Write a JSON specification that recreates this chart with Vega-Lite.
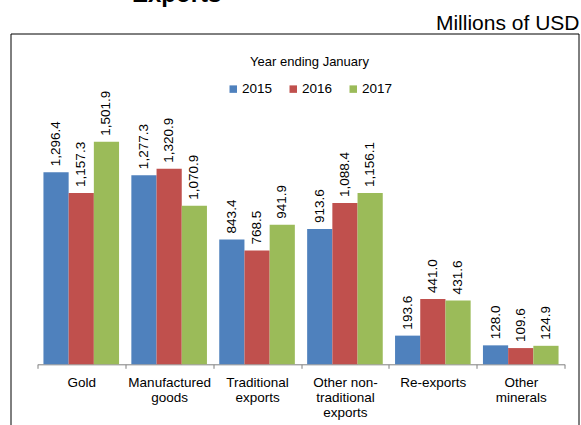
{
  "$schema": "https://vega.github.io/schema/vega-lite/v6.json",
  "width": 568,
  "height": 392,
  "autosize": {"type": "none"},
  "padding": {"left": 10.5, "top": 33.5, "right": 2.5, "bottom": -0.5},
  "background": "#ffffff",
  "config": {
    "font": "Liberation Sans",
    "view": {"stroke": "#000000", "strokeWidth": 1},
    "axis": {"grid": false}
  },
  "title": {
    "text": "Exports",
    "anchor": "start",
    "frame": "group",
    "fontSize": 24,
    "fontWeight": "bold",
    "color": "#000000",
    "dx": 121.5,
    "offset": 5.5
  },
  "data": {
    "values": [
      {"category": "Gold", "year": "2015", "value": 1296.4},
      {"category": "Gold", "year": "2016", "value": 1157.3},
      {"category": "Gold", "year": "2017", "value": 1501.9},
      {"category": "Manufactured goods", "year": "2015", "value": 1277.3},
      {"category": "Manufactured goods", "year": "2016", "value": 1320.9},
      {"category": "Manufactured goods", "year": "2017", "value": 1070.9},
      {"category": "Traditional exports", "year": "2015", "value": 843.4},
      {"category": "Traditional exports", "year": "2016", "value": 768.5},
      {"category": "Traditional exports", "year": "2017", "value": 941.9},
      {"category": "Other non-traditional exports", "year": "2015", "value": 913.6},
      {"category": "Other non-traditional exports", "year": "2016", "value": 1088.4},
      {"category": "Other non-traditional exports", "year": "2017", "value": 1156.1},
      {"category": "Re-exports", "year": "2015", "value": 193.6},
      {"category": "Re-exports", "year": "2016", "value": 441.0},
      {"category": "Re-exports", "year": "2017", "value": 431.6},
      {"category": "Other minerals", "year": "2015", "value": 128.0},
      {"category": "Other minerals", "year": "2016", "value": 109.6},
      {"category": "Other minerals", "year": "2017", "value": 124.9}
    ]
  },
  "encoding": {
    "x": {
      "field": "category",
      "type": "nominal",
      "sort": ["Gold", "Manufactured goods", "Traditional exports", "Other non-traditional exports", "Re-exports", "Other minerals"],
      "scale": {"range": [26.8, 554.2], "paddingInner": 0, "paddingOuter": 0},
      "axis": {
        "title": null,
        "orient": "bottom",
        "offset": -61.2,
        "tickBand": "extent",
        "domainColor": "#808080",
        "tickColor": "#808080",
        "tickSize": 4,
        "labelAngle": 0,
        "labelFontSize": 13.5,
        "labelColor": "#000000",
        "labelPadding": 7,
        "labelLineHeight": 15,
        "labelOverlap": false,
        "labelExpr": "datum.value == 'Manufactured goods' ? ['Manufactured', 'goods'] : datum.value == 'Traditional exports' ? ['Traditional', 'exports'] : datum.value == 'Other non-traditional exports' ? ['Other non-', 'traditional', 'exports'] : datum.value == 'Other minerals' ? ['Other', 'minerals'] : datum.label"
      }
    },
    "xOffset": {
      "field": "year",
      "type": "nominal",
      "scale": {"paddingInner": 0, "paddingOuter": 0.244}
    },
    "y": {
      "field": "value",
      "type": "quantitative",
      "scale": {"domain": [-413.2, 2233.6], "nice": false, "zero": false},
      "axis": {
        "orient": "right",
        "title": "Millions of USD",
        "labels": false,
        "ticks": false,
        "domain": false,
        "grid": false,
        "titleAngle": 0,
        "titleAlign": "right",
        "titleBaseline": "alphabetic",
        "titleX": 0.5,
        "titleY": -4.5,
        "titleFontSize": 21,
        "titleFontWeight": "normal",
        "titleColor": "#000000"
      }
    }
  },
  "layer": [
    {
      "mark": {"type": "bar"},
      "encoding": {
        "y2": {"datum": 0},
        "color": {
          "field": "year",
          "type": "nominal",
          "scale": {"domain": ["2015", "2016", "2017"], "range": ["#4F81BD", "#C0504D", "#9BBB59"]},
          "legend": {
            "title": "Year ending January",
            "orient": "none",
            "legendX": 216,
            "legendY": 22.5,
            "direction": "horizontal",
            "titleAnchor": "middle",
            "titleFontSize": 13,
            "titleFontWeight": "normal",
            "titleColor": "#000000",
            "titlePadding": 13,
            "labelFontSize": 13.5,
            "labelColor": "#000000",
            "labelOffset": 2,
            "symbolType": "square",
            "symbolSize": 56,
            "symbolStrokeWidth": 0,
            "columnPadding": 14,
            "padding": 0
          }
        }
      }
    },
    {
      "mark": {"type": "text", "angle": 270, "align": "left", "baseline": "middle", "dx": 6, "fontSize": 13.5, "color": "#000000"},
      "encoding": {
        "text": {"field": "value", "type": "quantitative", "format": ",.1f"}
      }
    }
  ]
}
